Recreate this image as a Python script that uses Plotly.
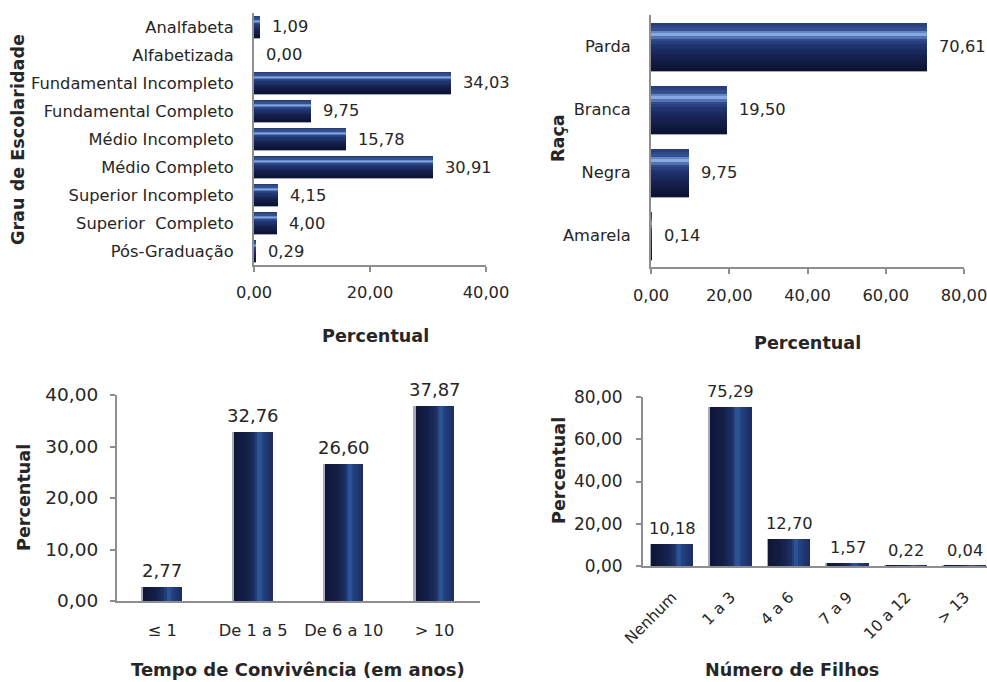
import plotly.graph_objects as go

FONT = "DejaVu Sans"
TXT = "#262626"
AXIS = "#8e8e8e"

# --- data -------------------------------------------------------------
esc_cats = ["Analfabeta", "Alfabetizada", "Fundamental Incompleto",
            "Fundamental Completo", "Médio Incompleto", "Médio Completo",
            "Superior Incompleto", "Superior \u00a0Completo", "Pós-Graduação"]
esc_vals = [1.09, 0.00, 34.03, 9.75, 15.78, 30.91, 4.15, 4.00, 0.29]

raca_cats = ["Parda", "Branca", "Negra", "Amarela"]
raca_vals = [70.61, 19.50, 9.75, 0.14]

tempo_cats = ["≤ 1", "De 1 a 5", "De 6 a 10", "> 10"]
tempo_vals = [2.77, 32.76, 26.60, 37.87]

filhos_cats = ["Nenhum", "1 a 3", "4 a 6", "7 a 9", "10 a 12", "> 13"]
filhos_vals = [10.18, 75.29, 12.70, 1.57, 0.22, 0.04]

# --- gradient helpers -------------------------------------------------
# colour stops across the bar thickness (0 = top / left, 1 = bottom / right)
H_STOPS = [(0.0, "#283a7a"), (0.14, "#34508f"), (0.24, "#8fb3ea"),
           (0.34, "#34508f"), (0.48, "#203270"), (0.75, "#141f4a"),
           (1.0, "#0b1230")]
V_STOPS = [(0.0, "#0e1535"), (0.35, "#15204a"), (0.55, "#1f3168"),
           (0.66, "#2e5ca2"), (0.76, "#22407e"), (1.0, "#1d2b60")]
EDGE = "#a3aabb"


def hex2rgb(h):
    h = h.lstrip("#")
    return tuple(int(h[i:i + 2], 16) for i in (0, 2, 4))


def color_at(stops, t):
    for (t0, c0), (t1, c1) in zip(stops[:-1], stops[1:]):
        if t0 <= t <= t1:
            f = (t - t0) / (t1 - t0) if t1 > t0 else 0
            a, b = hex2rgb(c0), hex2rgb(c1)
            r = [round(a[k] + (b[k] - a[k]) * f) for k in range(3)]
            return "rgb(%d,%d,%d)" % tuple(r)
    return stops[-1][1]


def gradient_bars(fig, cats, vals, width, orient, xa, ya, stops, edge, n=18):
    """Bars drawn as thin overlaid slices so each bar carries a gradient.
    `edge` is the thickness (in category units) of a light rim drawn on the
    shaded side of each bar."""
    step = width / n
    slices = []
    if orient == "h":
        slices.append((width / 2 - step * 0.1, edge + step * 0.1, EDGE))
    else:
        slices.append((-width / 2 - edge, edge + step * 0.1, EDGE))
    for i in range(n):
        t = (i + 0.5) / n
        slices.append((-width / 2 + i * step, step * 1.15, color_at(stops, t)))
    for off, w, col in slices:
        kw = dict(orientation=orient, width=w, offset=off,
                  marker=dict(color=col, line=dict(width=0)),
                  xaxis=xa, yaxis=ya, showlegend=False, hoverinfo="skip")
        if orient == "h":
            fig.add_trace(go.Bar(x=vals, y=cats, **kw))
        else:
            fig.add_trace(go.Bar(x=cats, y=vals, **kw))


def fmt(v):
    return f"{v:.2f}".replace(".", ",")


fig = go.Figure()

gradient_bars(fig, esc_cats, esc_vals, 0.75, "h", "x", "y", H_STOPS, 1.4 / 28)
gradient_bars(fig, raca_cats, raca_vals, 0.75, "h", "x2", "y2", H_STOPS, 1.6 / 63)
gradient_bars(fig, tempo_cats, tempo_vals, 0.42, "v", "x3", "y3", V_STOPS, 1.6 / 90.75)
gradient_bars(fig, filhos_cats, filhos_vals, 0.71, "v", "x4", "y4", V_STOPS, 1.4 / 58.6)

annotations = []


def value_labels(cats, vals, xr, yr, orient, size):
    for c, v in zip(cats, vals):
        if orient == "h":
            annotations.append(dict(x=v, y=c, xref=xr, yref=yr, text=fmt(v),
                                    showarrow=False, xanchor="left", xshift=10,
                                    font=dict(family=FONT, size=size, color=TXT)))
        else:
            annotations.append(dict(x=c, y=v, xref=xr, yref=yr, text=fmt(v),
                                    showarrow=False, yanchor="bottom", yshift=4,
                                    font=dict(family=FONT, size=size, color=TXT)))


value_labels(esc_cats, esc_vals, "x", "y", "h", 16.3)
value_labels(raca_cats, raca_vals, "x2", "y2", "h", 16.3)
value_labels(tempo_cats, tempo_vals, "x3", "y3", "v", 18)
value_labels(filhos_cats, filhos_vals, "x4", "y4", "v", 16.3)


def title(text, x, y, angle=0, size=17.6):
    annotations.append(dict(text=text, x=x / 987, y=1 - y / 682, xref="paper",
                            yref="paper", showarrow=False, textangle=angle,
                            xanchor="center", yanchor="middle",
                            font=dict(family=FONT, size=size, color=TXT,
                                      weight="bold")))


title("Percentual", 375, 336)
title("Grau de Escolaridade", 18, 140, -90)
title("Percentual", 807, 343)
title("Raça", 558, 138, -90)
title("Percentual", 24, 498, -90)
title("Tempo de Convivência (em anos)", 298, 669, size=18)
title("Percentual", 559, 471, -90)
title("Número de Filhos", 792, 670)

common = dict(showline=True, linecolor=AXIS, linewidth=2, showgrid=False,
              zeroline=False, tickcolor=AXIS, ticklen=5, tickwidth=1.5,
              fixedrange=True, ticklabeloverflow="allow")
num = dict(tickformat=".2f", ticks="outside")
cat = dict(type="category", ticks="")

fig.update_layout(
    width=987, height=682,
    margin=dict(l=0, r=0, t=0, b=0, autoexpand=False),
    paper_bgcolor="white", plot_bgcolor="white",
    barmode="overlay", bargap=0,
    separators=", ",
    font=dict(family=FONT, color=TXT),
    annotations=annotations,
    xaxis=dict(domain=[254 / 987, 486 / 987], anchor="y", range=[0, 40],
               tickvals=[0, 20, 40], ticklabelstandoff=6,
               tickfont=dict(size=16.3, color=TXT), **num, **common),
    yaxis=dict(domain=[1 - 265 / 682, 1 - 13 / 682], anchor="x",
               range=[8.5, -0.5], ticklabelstandoff=15,
               tickfont=dict(size=16.3, color=TXT), **cat, **common),
    xaxis2=dict(domain=[651 / 987, 964 / 987], anchor="y2", range=[0, 80],
                tickvals=[0, 20, 40, 60, 80], ticklabelstandoff=7,
                tickfont=dict(size=16.3, color=TXT), **num, **common),
    yaxis2=dict(domain=[1 - 267 / 682, 1 - 15 / 682], anchor="x2",
                range=[3.5, -0.5], ticklabelstandoff=15,
                tickfont=dict(size=16.3, color=TXT), **cat, **common),
    xaxis3=dict(domain=[117 / 987, 480 / 987], anchor="y3",
                range=[-0.5, 3.5], ticklabelstandoff=13,
                tickfont=dict(size=16.3, color=TXT), **cat, **common),
    yaxis3=dict(domain=[1 - 601 / 682, 1 - 395 / 682], anchor="x3",
                range=[0, 40], tickvals=[0, 10, 20, 30, 40],
                ticklabelstandoff=8,
                tickfont=dict(size=18.5, color=TXT), **num, **common),
    xaxis4=dict(domain=[643 / 987, 1.0], anchor="y4",
                range=[-0.5, 5.38], tickangle=-45, ticklabelstandoff=14,
                tickfont=dict(size=15.5, color=TXT), **cat, **common),
    yaxis4=dict(domain=[1 - 566 / 682, 1 - 397 / 682], anchor="x4",
                range=[0, 80], tickvals=[0, 20, 40, 60, 80],
                ticklabelstandoff=10,
                tickfont=dict(size=17, color=TXT), **num, **common),
)

fig.write_html("out.html")
